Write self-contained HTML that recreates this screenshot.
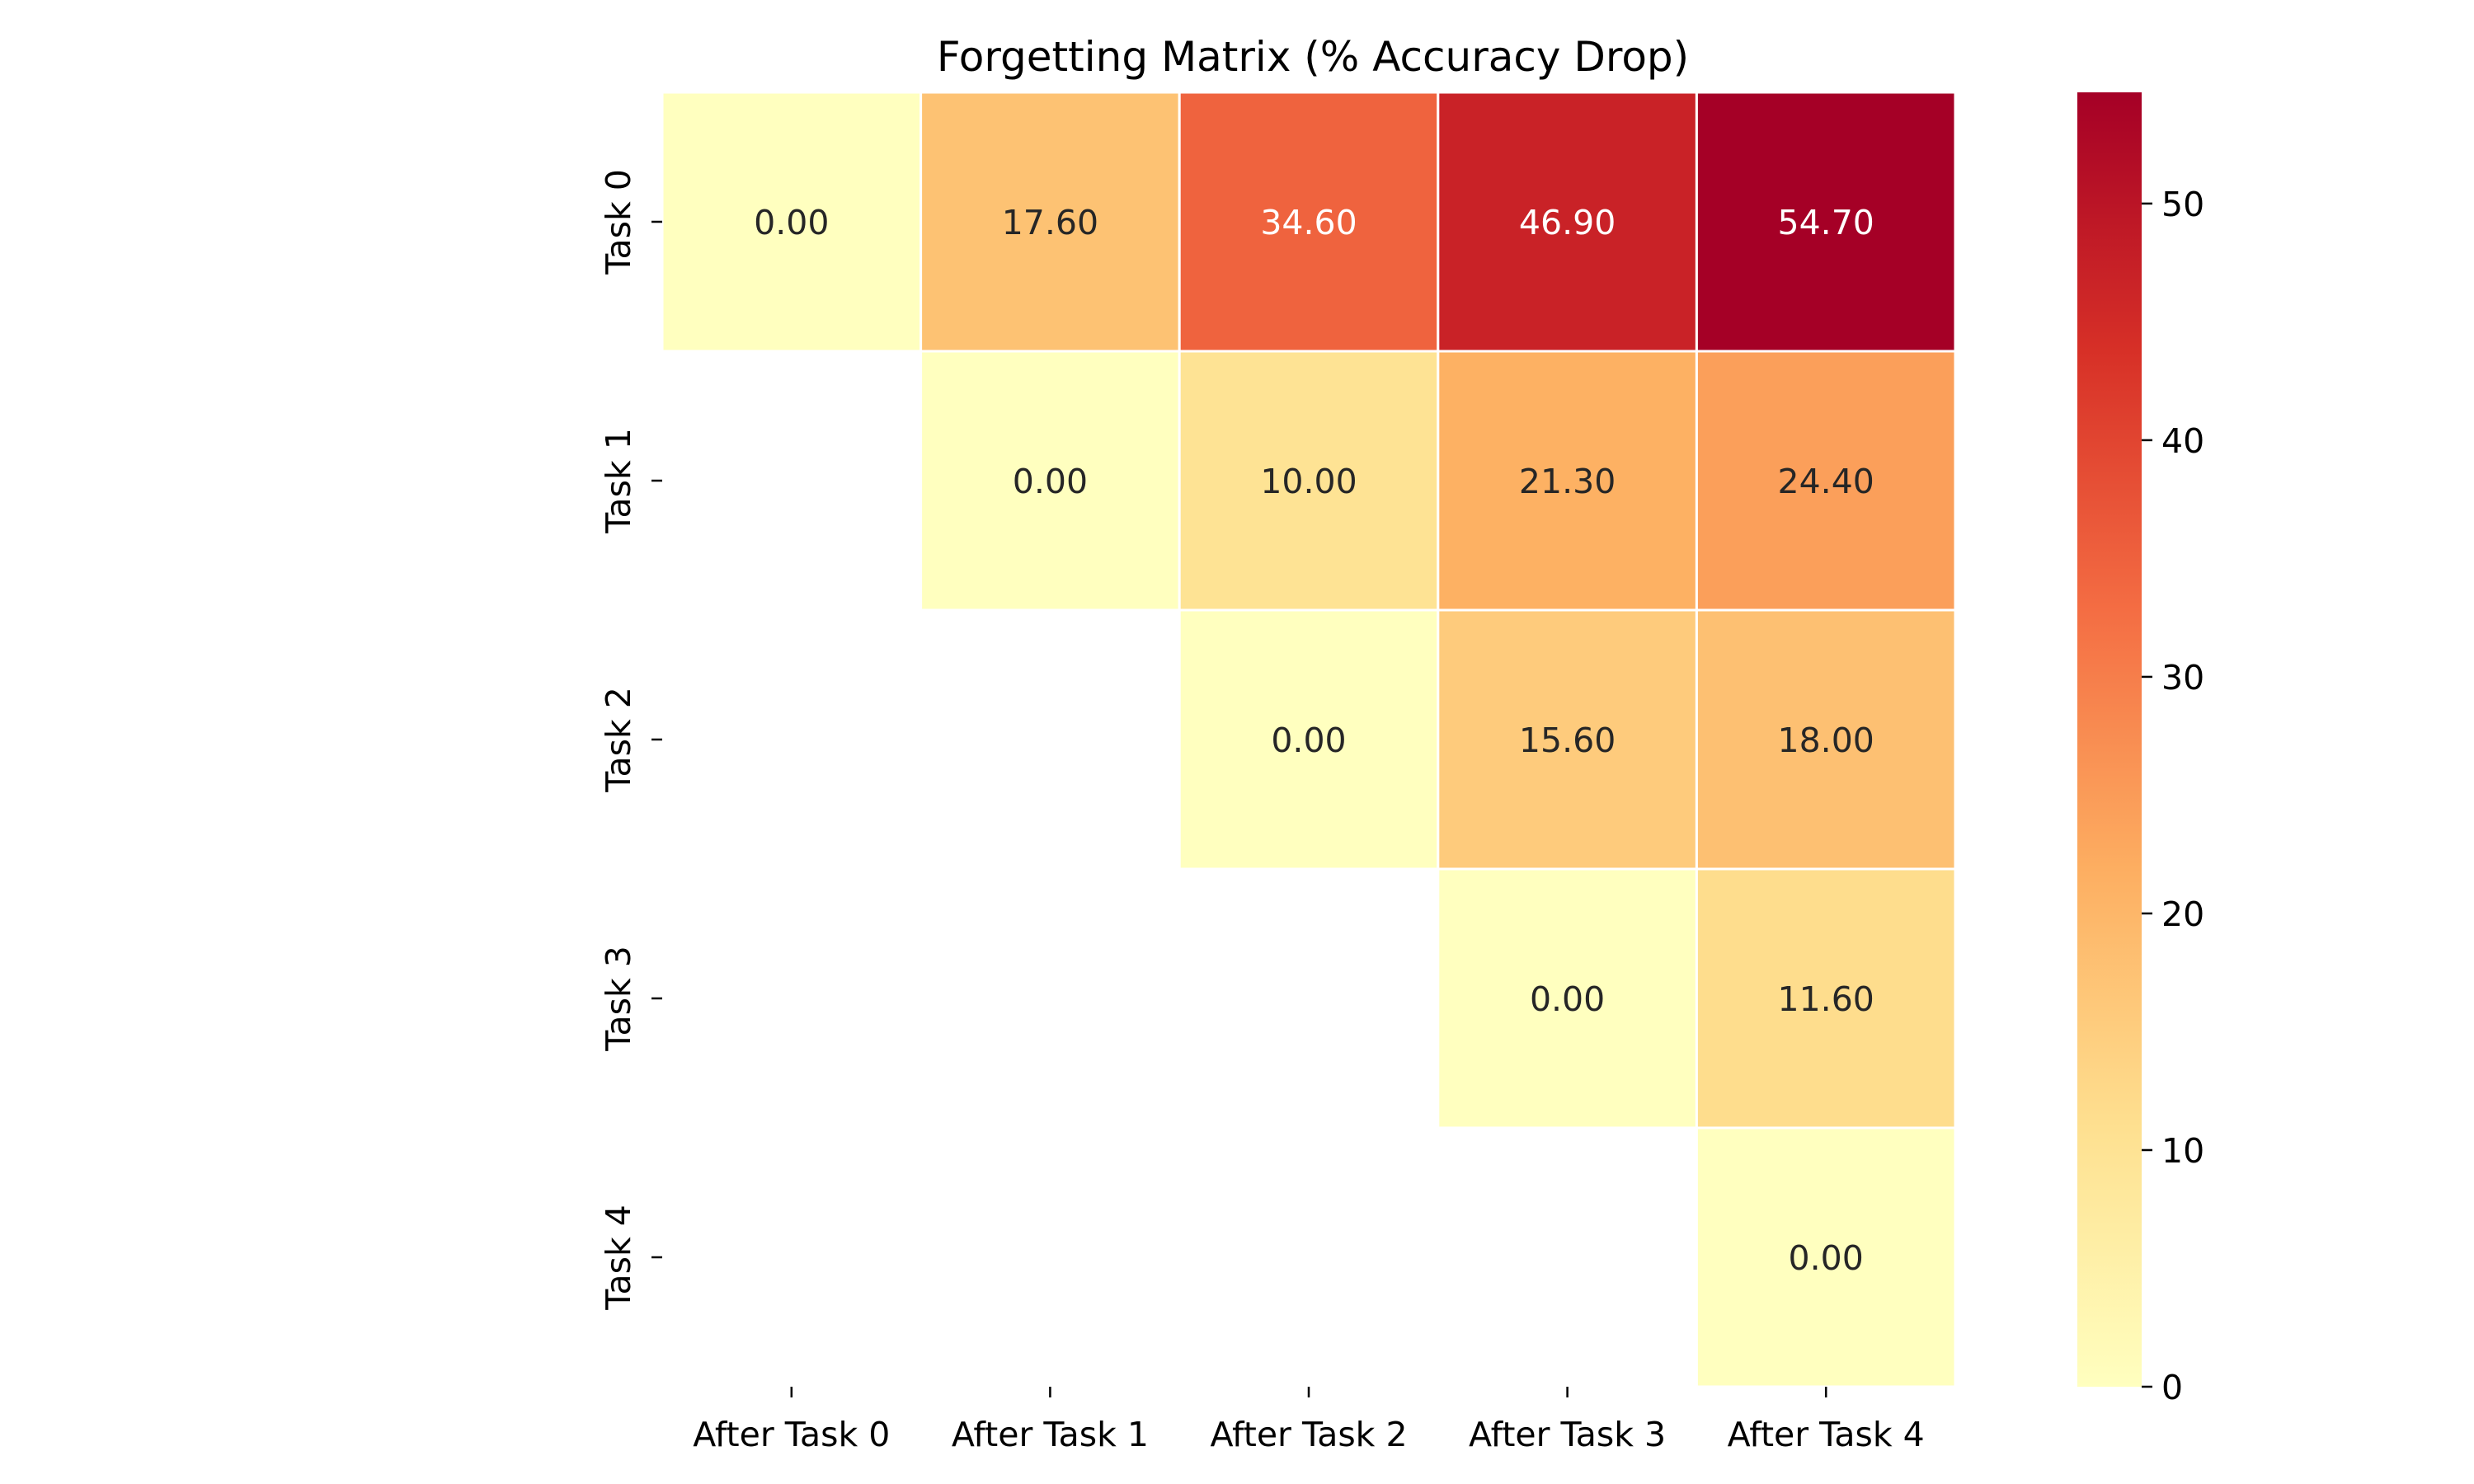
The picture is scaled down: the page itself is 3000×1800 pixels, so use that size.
<!DOCTYPE html>
<html><head><meta charset="utf-8"><style>body{margin:0;background:#fff}svg{display:block}text{font-family:"DejaVu Sans","Liberation Sans",sans-serif}</style></head>
<body>
<svg id="chart" width="3000" height="1800" xmlns="http://www.w3.org/2000/svg">
<text x="1592" y="86" font-size="50" text-anchor="middle" fill="#000">Forgetting Matrix (% Accuracy Drop)</text>
<g id="cells"></g><g id="xt"></g><g id="yt"></g>
<defs><linearGradient id="cg" x1="0" y1="1" x2="0" y2="0"></linearGradient></defs>
<rect id="cbar"></rect>
<g id="ct"></g>
</svg>
<script>
const rowLabels=["Task 0","Task 1","Task 2","Task 3","Task 4"];
const colLabels=["After Task 0","After Task 1","After Task 2","After Task 3","After Task 4"];
const values=[
[0.0,17.6,34.6,46.9,54.7],
[null,0.0,10.0,21.3,24.4],
[null,null,0.0,15.6,18.0],
[null,null,null,0.0,11.6],
[null,null,null,null,0.0]];
const cbTicks=[0,10,20,30,40,50];
const NS="http://www.w3.org/2000/svg";
const X0=803,Y0=112,W=1568,H=1570;
const cw=W/colLabels.length,ch=H/rowLabels.length;
let all=values.flat().filter(v=>v!==null);
const vmin=Math.min(...all),vmax=Math.max(...all);
const stops=["#ffffbf","#fee090","#fdae61","#f46d43","#d73027","#a50026"];
function hex(h){return [1,3,5].map(i=>parseInt(h.substr(i,2),16));}
function cmap(t){t=Math.max(0,Math.min(1,t));let p=t*(stops.length-1),i=Math.min(Math.floor(p),stops.length-2),f=p-i;let a=hex(stops[i]),b=hex(stops[i+1]);return a.map((c,k)=>Math.round(c+(b[k]-c)*f));}
function el(t,a,par){let e=document.createElementNS(NS,t);for(let k in a)e.setAttribute(k,a[k]);par.appendChild(e);return e;}
const xs=c=>X0+c*cw, ys=r=>Y0+r*ch;
const cells=document.getElementById('cells');
values.forEach((row,r)=>row.forEach((v,c)=>{
 if(v===null)return;
 let col=cmap((v-vmin)/(vmax-vmin));
 let rc=el('rect',{x:xs(c),y:ys(r),width:cw,height:ch,fill:`rgb(${col})`,stroke:'#fff','stroke-width':3},cells);
 
 
 let lum=0.2126*col[0]+0.7152*col[1]+0.0722*col[2];
 let tx=el('text',{x:xs(c)+cw/2,y:ys(r)+ch/2+15,'font-size':41,'text-anchor':'middle',fill:lum<140?'#fff':'#262626'},cells);
 tx.textContent=v.toFixed(2);
 
 
}));
const xt=document.getElementById('xt');
colLabels.forEach((l,c)=>{
 let cx=xs(c)+cw/2;
 el('line',{x1:cx,x2:cx,y1:Y0+H,y2:Y0+H+13,stroke:'#000','stroke-width':2.5},xt);
 let t=el('text',{x:cx,y:Y0+H+72,'font-size':41,'text-anchor':'middle'},xt);t.textContent=l;
 
 
});
const yt=document.getElementById('yt');
rowLabels.forEach((l,r)=>{
 let cy=ys(r)+ch/2;
 el('line',{x1:X0-13,x2:X0,y1:cy,y2:cy,stroke:'#000','stroke-width':2.5},yt);
 let t=el('text',{x:0,y:0,'font-size':41,'text-anchor':'middle',transform:`translate(764,${cy}) rotate(-90)`},yt);t.textContent=l;
 
 
});
const g=document.getElementById('cg');
stops.forEach((s,i)=>el('stop',{offset:i/(stops.length-1),'stop-color':s},g));
const CX=2519,CW=78;
const cb=document.getElementById('cbar');
cb.setAttribute('x',CX);cb.setAttribute('y',Y0);cb.setAttribute('width',CW);cb.setAttribute('height',H);cb.setAttribute('fill','url(#cg)');
const ct=document.getElementById('ct');
const cy=v=>Y0+H-(v-vmin)/(vmax-vmin)*H;
cbTicks.forEach(v=>{
 el('line',{x1:CX+CW,x2:CX+CW+13,y1:cy(v),y2:cy(v),stroke:'#000','stroke-width':2.5},ct);
 let t=el('text',{x:CX+CW+24,y:cy(v)+15,'font-size':41},ct);t.textContent=v;
 
 
});
</script>
</body></html>
